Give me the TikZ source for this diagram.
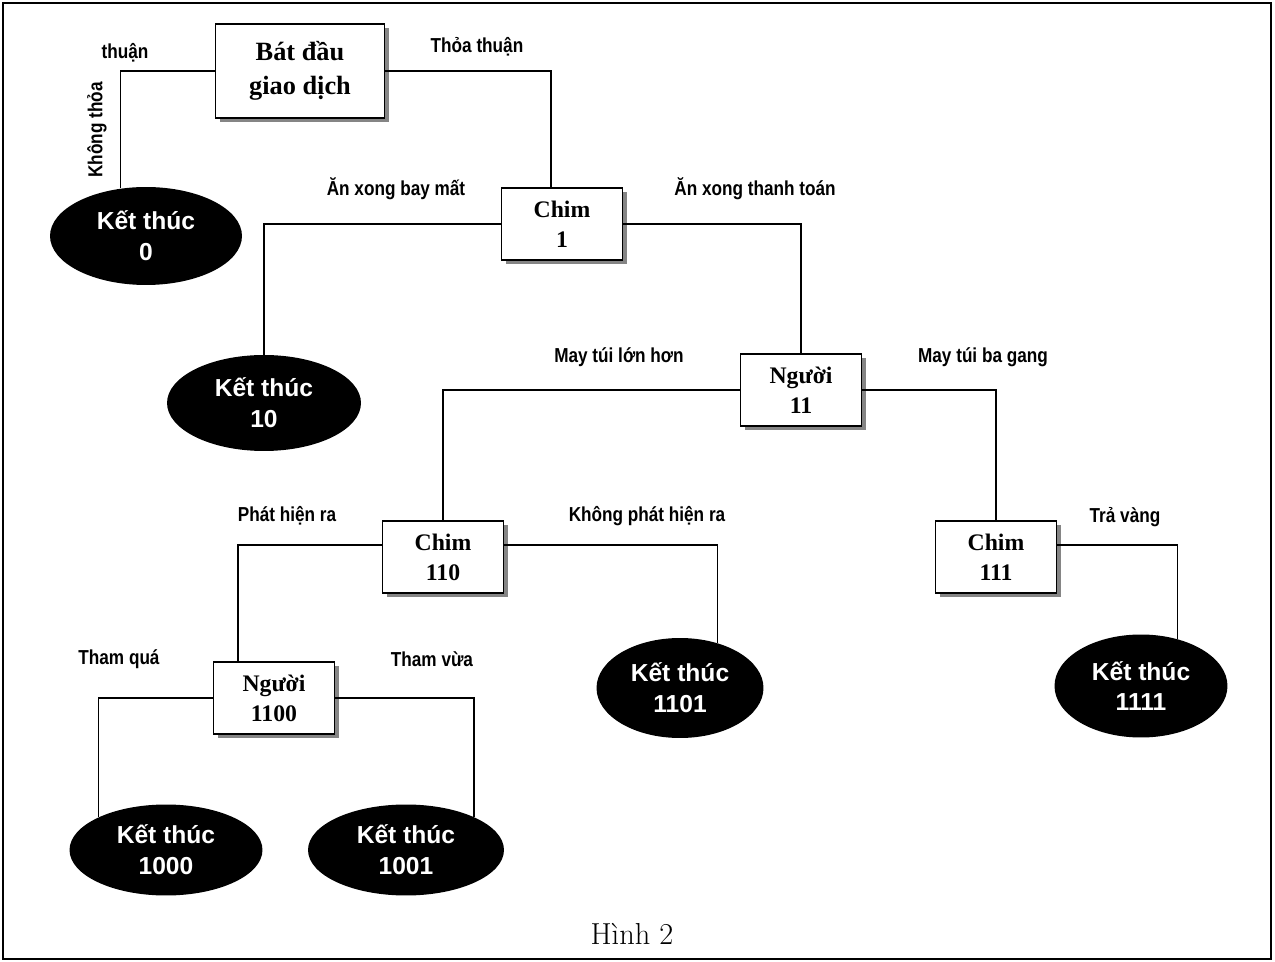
\documentclass[tikz,border=0pt]{standalone}
\usepackage{fontspec}
\usepackage{tikz}
\usetikzlibrary{shapes.geometric,shadows,calc}
\newfontfamily\lblfont[FakeStretch=0.85]{Liberation Sans}
\newfontfamily\boxfont{Liberation Serif}
\newfontfamily\endfont{Liberation Sans}

\begin{document}
\begin{tikzpicture}[x=0.02cm, y=-0.02cm,
    state/.style={draw, line width=1pt, fill=white, align=center, inner sep=0pt,
        minimum width=2.42cm, minimum height=1.44cm,
        drop shadow={shadow xshift=2.5pt, shadow yshift=-2.5pt, fill=gray!80!black, opacity=0.8},
        font=\boxfont\bfseries\fontsize{13.5}{17}\selectfont},
    finish/.style={ellipse, fill=black, text=white, align=center, inner sep=0pt,
        font=\endfont\bfseries\fontsize{14}{17.5}\selectfont},
    lbl/.style={font=\lblfont\bfseries\fontsize{11.5}{13}\selectfont, inner sep=0pt},
    link/.style={line width=0.8pt}]
    \useasboundingbox (0,0) rectangle (1275,962);

    % Frame
    \draw[line width=1.2pt] (3,3) rectangle (1271,959);

    % Decision boxes
    \node[state, minimum width=3.38cm, minimum height=1.88cm,
        font=\boxfont\bfseries\fontsize{15}{19}\selectfont] (start) at (300,71) {Bát đầu\\giao dịch};
    \node[state] (c1) at (562,224) {Chim\\1};
    \node[state] (n11) at (801,390) {Người\\11};
    \node[state] (c110) at (443,557) {Chim\\110};
    \node[state] (c111) at (996,557) {Chim\\111};
    \node[state] (n1100) at (274,698) {Người\\1100};

    % End states
    \node[finish, minimum width=3.84cm, minimum height=1.96cm] (e0) at (146,236) {Kết thúc\\0};
    \node[finish, minimum width=3.88cm, minimum height=1.92cm] (e10) at (264,403) {Kết thúc\\10};
    \node[finish, minimum width=3.34cm, minimum height=2cm] (e1101) at (680,688) {Kết thúc\\1101};
    \node[finish, minimum width=3.46cm, minimum height=2.06cm] (e1111) at (1141,686) {Kết thúc\\1111};
    \node[finish, minimum width=3.86cm, minimum height=1.82cm] (e1000) at (166,850) {Kết thúc\\1000};
    \node[finish, minimum width=3.92cm, minimum height=1.82cm] (e1001) at (406,850) {Kết thúc\\1001};

    % Branches
    \draw[link] (start.west) -| (e0.118);
    \draw[link] (start.east) -| ($(c1.north)+(-11,0)$);
    \draw[link] (c1.west) -| (e10.north);
    \draw[link] (c1.east) -| (n11.north);
    \draw[link] (n11.west) -| (c110.north);
    \draw[link] (n11.east) -| (c111.north);
    \draw[link] ($(c110.west)+(0,-12)$) -| ($(n1100.north)+(-36,0)$);
    \draw[link] ($(c110.east)+(0,-12)$) -| (e1101.50);
    \draw[link] ($(c111.east)+(0,-12)$) -| (e1111.52);
    \draw[link] (n1100.west) -| (e1000.154);
    \draw[link] (n1100.east) -| (e1001.26);

    % Branch labels
    \node[lbl] (l1) at (125,53) {thuận};
    \node[lbl, rotate=90] (l2) at (97,130) {Không thỏa};
    \node[lbl] (l3) at (477,47) {Thỏa thuận};
    \node[lbl] (l4) at (396,189) {Ăn xong bay mất};
    \node[lbl] (l5) at (755,189) {Ăn xong thanh toán};
    \node[lbl] (l6) at (619,357) {May túi lớn hơn};
    \node[lbl] (l7) at (983,357) {May túi ba gang};
    \node[lbl] (l8) at (287,516) {Phát hiện ra};
    \node[lbl] (l9) at (647,516) {Không phát hiện ra};
    \node[lbl] (l10) at (1125,517) {Trả vàng};
    \node[lbl] (l11) at (119,659) {Tham quá};
    \node[lbl] (l12) at (432,659) {Tham vừa};

    % Caption
    \node[font=\LARGE] (cap) at (632,934) {Hình 2};
\end{tikzpicture}
\end{document}
